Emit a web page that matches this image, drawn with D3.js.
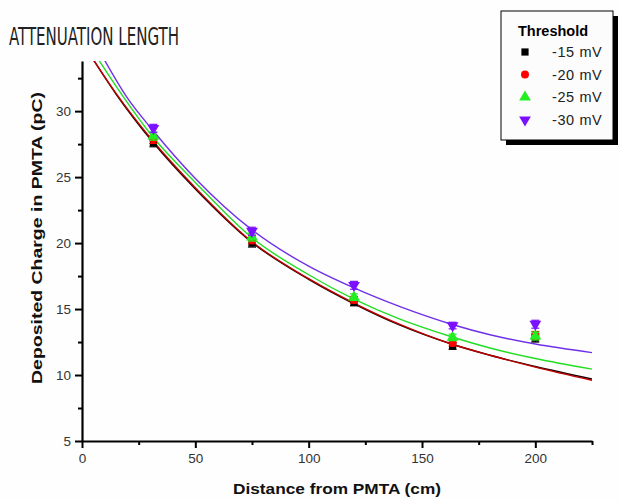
<!DOCTYPE html>
<html>
<head>
<meta charset="utf-8">
<script src="https://cdn.jsdelivr.net/npm/d3@7"></script>
<style>
  html, body { margin: 0; padding: 0; background: #fff; }
  svg { display: block; }
</style>
</head>
<body>
<svg id="chart" width="621" height="501"></svg>
<script>
// Measured points: distance from PMTA (cm) and deposited charge (pC)
const distances = [31.5, 75, 120, 163.5, 200];
const thresholds = ["-15 mV", "-20 mV", "-25 mV", "-30 mV"];
const charge15 = [27.6, 20.0, 15.5, 12.2, 12.8];
const charge20 = [27.85, 20.25, 15.7, 12.45, 13.0];
const charge25 = [28.1, 20.45, 15.9, 12.85, 12.95];
const charge30 = [28.7, 20.9, 16.8, 13.75, 13.85];
const err15 = [0.3, 0.3, 0.25, 0.25, 0.3];
const err20 = [0.3, 0.3, 0.25, 0.25, 0.3];
const err25 = [0.3, 0.3, 0.25, 0.25, 0.3];
const err30 = [0.3, 0.3, 0.3, 0.25, 0.3];

// Fitted attenuation curves, sampled along the distance axis
const fitX = [5, 15, 31.5, 50, 75, 100, 120, 140, 163, 180, 200, 225];
const fit15 = [33.9, 31.3, 27.6, 24.1, 20.05, 17.25, 15.4, 13.8, 12.35, 11.5, 10.65, 9.7];
const fit20 = [33.9, 31.35, 27.7, 24.2, 20.1, 17.3, 15.45, 13.85, 12.35, 11.5, 10.6, 9.6];
const fitX25 = [7.5, 15, 31.5, 50, 75, 100, 120, 140, 163, 180, 200, 225];
const fit25 = [33.85, 31.9, 28.0, 24.6, 20.4, 17.6, 15.75, 14.25, 12.9, 12.05, 11.25, 10.45];
const fitX30 = [10, 20, 31.5, 50, 75, 100, 120, 140, 163, 180, 200, 225];
const fit30 = [33.85, 31.0, 28.5, 24.9, 21.0, 18.25, 16.6, 15.2, 13.85, 13.05, 12.35, 11.7];

// Axis ticks
const xTicks = [0, 50, 100, 150, 200];
const xMinor = [25, 75, 125, 175, 225];
const yTicks = [5, 10, 15, 20, 25, 30];
const yMinor = [7.5, 12.5, 17.5, 22.5, 27.5, 32.5];

const series = [
  { name: thresholds[0], y: charge15, e: err15, fx: fitX, fy: fit15, color: "#000000", line: "#1a0000", shape: d3.symbolSquare, size: 52, rot: 0 },
  { name: thresholds[1], y: charge20, e: err20, fx: fitX, fy: fit20, color: "#ff0000", line: "#c00000", shape: d3.symbolCircle, size: 50, rot: 0 },
  { name: thresholds[2], y: charge25, e: err25, fx: fitX25, fy: fit25, color: "#22ee22", line: "#22dd22", shape: d3.symbolTriangle, size: 60, rot: 0 },
  { name: thresholds[3], y: charge30, e: err30, fx: fitX30, fy: fit30, color: "#7a10ff", line: "#7030e8", shape: d3.symbolTriangle, size: 60, rot: 180 }
];

const svg = d3.select("#chart");
const plotLeft = 82, plotRight = 592, plotTop = 61, plotBottom = 441;

const x = d3.scaleLinear().domain([0, 225]).range([plotLeft, plotRight]);
const y = d3.scaleLinear().domain([5, 33.8]).range([plotBottom, plotTop]);

svg.append("rect").attr("width", 621).attr("height", 501).attr("fill", "#fefefe");

svg.append("defs").append("clipPath").attr("id", "plot")
  .append("rect").attr("x", plotLeft).attr("y", plotTop)
  .attr("width", plotRight - plotLeft).attr("height", plotBottom - plotTop);

// Title
svg.append("text")
  .attr("x", 9).attr("y", 45)
  .attr("font-family", "'Liberation Sans Narrow', 'DejaVu Sans Condensed', sans-serif")
  .attr("font-size", 25)
  .attr("fill", "#222")
  .attr("textLength", 170).attr("lengthAdjust", "spacingAndGlyphs")
  .text("ATTENUATION LENGTH");

// Fit curves
const plot = svg.append("g").attr("clip-path", "url(#plot)");
series.forEach(s => {
  const line = d3.line().x(d => x(d[0])).y(d => y(d[1])).curve(d3.curveMonotoneX);
  plot.append("path")
    .attr("d", line(d3.zip(s.fx, s.fy)))
    .attr("fill", "none")
    .attr("stroke", s.line)
    .attr("stroke-width", 1.4);
});

// Error bars and markers
series.forEach(s => {
  const g = svg.append("g");
  distances.forEach((d, i) => {
    const cx = x(d), v = s.y[i], e = s.e[i];
    g.append("line").attr("x1", cx).attr("x2", cx).attr("y1", y(v - e)).attr("y2", y(v + e))
      .attr("stroke", s.color).attr("stroke-width", 1.2);
    [v - e, v + e].forEach(c => g.append("line")
      .attr("x1", cx - 4).attr("x2", cx + 4).attr("y1", y(c)).attr("y2", y(c))
      .attr("stroke", s.color).attr("stroke-width", 1.2));
    g.append("path")
      .attr("d", d3.symbol().type(s.shape).size(s.size)())
      .attr("transform", `translate(${cx},${y(v)}) rotate(${s.rot})`)
      .attr("fill", s.color);
  });
});

// Axes
const axisFont = "'Liberation Sans', Arial, sans-serif";
svg.append("g").attr("transform", `translate(0,${plotBottom})`)
  .call(d3.axisBottom(x).tickValues(xTicks).tickSize(7).tickSizeOuter(0).tickPadding(5));
svg.append("g").attr("transform", `translate(0,${plotBottom})`)
  .call(d3.axisBottom(x).tickValues(xMinor).tickSize(4).tickFormat("").tickSizeOuter(0))
  .select(".domain").remove();
svg.append("g").attr("transform", `translate(${plotLeft},0)`)
  .call(d3.axisLeft(y).tickValues(yTicks).tickSize(7).tickSizeOuter(0).tickPadding(4));
svg.append("g").attr("transform", `translate(${plotLeft},0)`)
  .call(d3.axisLeft(y).tickValues(yMinor).tickSize(4).tickFormat("").tickSizeOuter(0))
  .select(".domain").remove();

svg.selectAll(".domain").attr("stroke", "#000").attr("stroke-width", 2.2);
svg.selectAll(".tick line").attr("stroke", "#000").attr("stroke-width", 2);
svg.selectAll(".tick text").attr("font-family", axisFont).attr("font-size", 13.5).attr("fill", "#333");

// Axis titles
svg.append("text")
  .attr("x", 337).attr("y", 494)
  .attr("text-anchor", "middle")
  .attr("font-family", axisFont).attr("font-weight", "bold").attr("font-size", 15)
  .attr("fill", "#111")
  .attr("textLength", 208).attr("lengthAdjust", "spacingAndGlyphs")
  .text("Distance from PMTA (cm)");
svg.append("text")
  .attr("transform", "translate(42,238) rotate(-90)")
  .attr("text-anchor", "middle")
  .attr("font-family", axisFont).attr("font-weight", "bold").attr("font-size", 15)
  .attr("fill", "#111")
  .attr("textLength", 292).attr("lengthAdjust", "spacingAndGlyphs")
  .text("Deposited Charge in PMTA (pC)");

// Legend
const lg = svg.append("g");
lg.append("rect").attr("x", 506).attr("y", 16).attr("width", 112).attr("height", 129).attr("fill", "#000");
lg.append("rect").attr("x", 501).attr("y", 11).attr("width", 112).attr("height", 129)
  .attr("fill", "#fcfcfc").attr("stroke", "#000").attr("stroke-width", 1);
lg.append("text").attr("x", 518).attr("y", 36)
  .attr("font-family", axisFont).attr("font-weight", "bold").attr("font-size", 14.5).attr("fill", "#000")
  .text("Threshold");
series.forEach((s, i) => {
  const cy = 52 + i * 22.6;
  lg.append("path")
    .attr("d", d3.symbol().type(s.shape).size(s.size)())
    .attr("transform", `translate(525,${cy}) rotate(${s.rot})`)
    .attr("fill", s.color);
  lg.append("text").attr("x", 552).attr("y", cy + 5)
    .attr("font-family", axisFont).attr("font-size", 14.5).attr("fill", "#222")
    .attr("letter-spacing", 0.6)
    .text(s.name);
});
</script>
</body>
</html>
